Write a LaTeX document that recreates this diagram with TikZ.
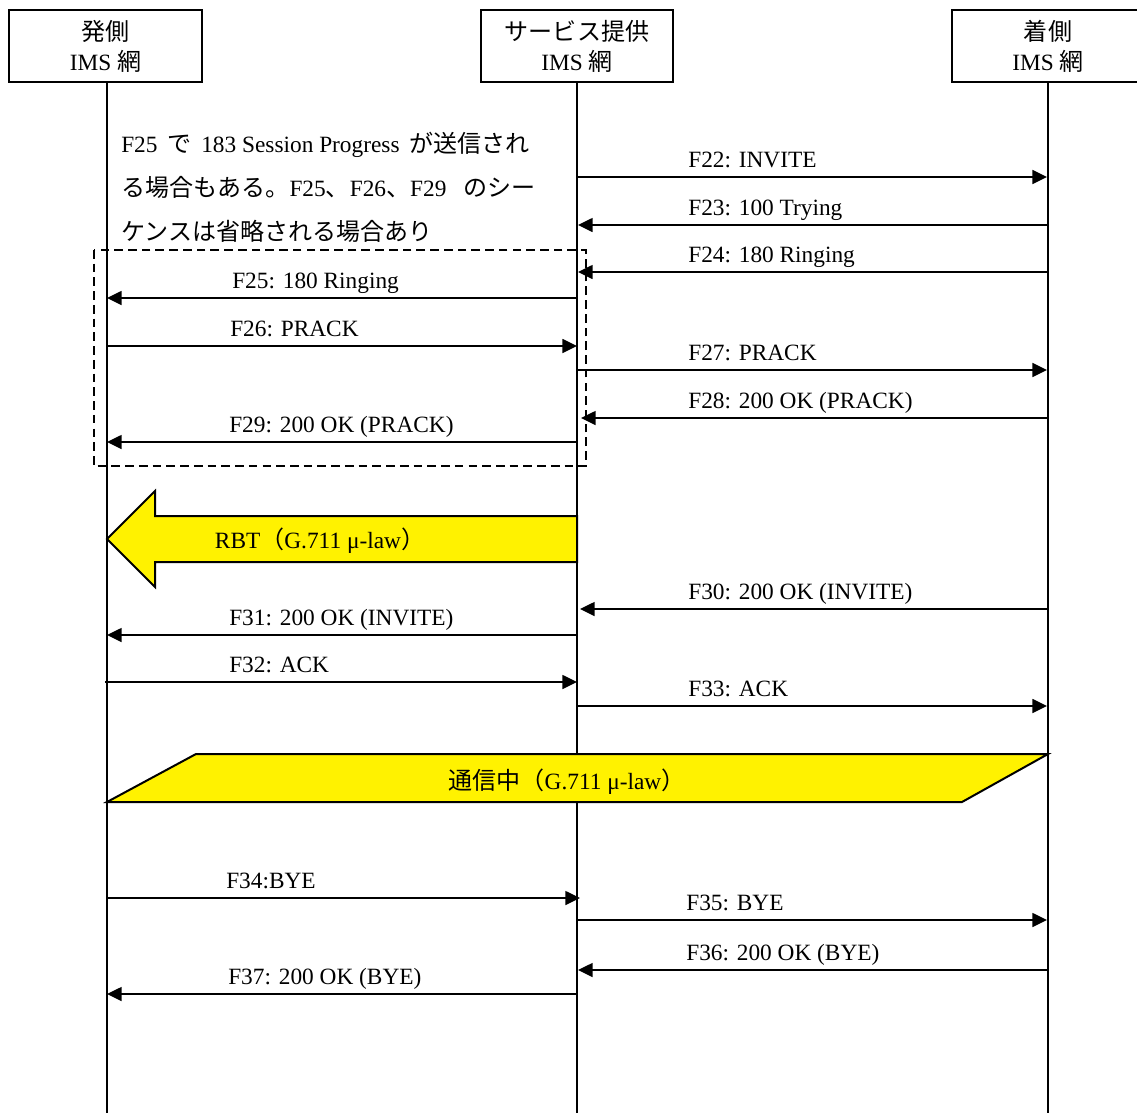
\documentclass[tikz,border=0pt]{standalone}
\usepackage{fontspec}
\setmainfont{Liberation Serif}
\newfontfamily\jp[Scale=1.03]{Noto Sans CJK JP}
\usetikzlibrary{arrows.meta}
\newcommand{\J}[1]{{\jp #1}}
\begin{document}
\begin{tikzpicture}[x=0.75pt,y=-0.75pt,
  every node/.style={font=\fontsize{17.5}{22.5}\selectfont},
  header/.style={draw,line width=1.3pt,minimum width=144.5pt,minimum height=54pt,align=center,inner sep=0pt},
  lifeline/.style={line width=1pt},
  msgarrow/.style={line width=1.15pt,-{Triangle[length=11pt,width=10.5pt]}},
  lbl/.style={anchor=base west,inner sep=0pt},
  note/.style={anchor=base west,inner sep=0pt},
  dashbox/.style={draw,line width=1.6pt,dash pattern=on 6.5pt off 3.8pt},
  media/.style={draw,line width=1.5pt,fill=yellow,line join=miter}]
\useasboundingbox (0,0) rectangle (1137,1113);
% headers
\node[header] (hA) at (105.5,46) {\J{発側}\\IMS \J{網}};
\node[header] (hB) at (577,46) {\J{サービス提供}\\IMS \J{網}};
\node[header] (hC) at (1048,46) {\J{着側}\\IMS \J{網}};
% lifelines
\coordinate (eA) at (107,1113);
\coordinate (eB) at (577,1113);
\coordinate (eC) at (1048,1113);
\draw[lifeline] (hA.south -| eA) -- (eA);
\draw[lifeline] (hB.south) -- (eB);
\draw[lifeline] (hC.south) -- (eC);
% note
\node[note] (n1) at (121,152) {F25\hspace{3pt} \J{で}\hspace{3pt} 183 Session Progress\hspace{3pt} \J{が送信され}};
\node[note] (n2) at (121,196) {\J{る場合もある。}F25\J{、}F26\J{、}F29\hspace{8pt} \J{のシー}};
\node[note] (n3) at (121,240) {\J{ケンスは省略される場合あり}};
% dashed box
\draw[dashbox] (94,250) rectangle (586,466);
% messages
\newcommand\msg[6]{%
  \coordinate (#1s) at (#3,#2);
  \coordinate (#1e) at (#4,#2);
  \draw[msgarrow] (#1s) -- (#1e);
  \node[lbl] (#1l) at (#5,#2-10) {#6};}
\msg{m22}{177}{577}{1047}{688}{F22: INVITE}
\msg{m23}{225}{1048}{578}{688}{F23: 100 Trying}
\msg{m24}{272}{1048}{578}{688}{F24: 180 Ringing}
\msg{m25}{298}{577}{107}{232}{F25: 180 Ringing}
\msg{m26}{346}{107}{577}{230}{F26: PRACK}
\msg{m27}{370}{577}{1047}{688}{F27: PRACK}
\msg{m28}{418}{1048}{581}{688}{F28: 200 OK (PRACK)}
\msg{m29}{442}{577}{107}{229}{F29: 200 OK (PRACK)}
% RBT
\draw[media] (577,516) -- (155,516) -- (155,491) -- (107,539) -- (155,587) -- (155,562) -- (577,562) -- cycle;
\node (rbt) at (320,541) {RBT\J{（}G.711 μ-law\J{）}};
\msg{m30}{609}{1048}{580}{688}{F30: 200 OK (INVITE)}
\msg{m31}{635}{577}{107}{229}{F31: 200 OK (INVITE)}
\msg{m32}{682}{105}{577}{229}{F32: ACK}
\msg{m33}{706}{577}{1047}{688}{F33: ACK}
% in call
\draw[media] (196,754) -- (1048,754) -- (962,802) -- (107,802) -- cycle;
\node (call) at (567,782) {\J{通信中（}G.711 μ-law\J{）}};
\msg{m34}{898}{107}{580}{226}{F34:BYE}
\msg{m35}{920}{577}{1047}{686}{F35: BYE}
\msg{m36}{970}{1048}{578}{686}{F36: 200 OK (BYE)}
\msg{m37}{994}{577}{107}{228}{F37: 200 OK (BYE)}
\end{tikzpicture}
\end{document}
